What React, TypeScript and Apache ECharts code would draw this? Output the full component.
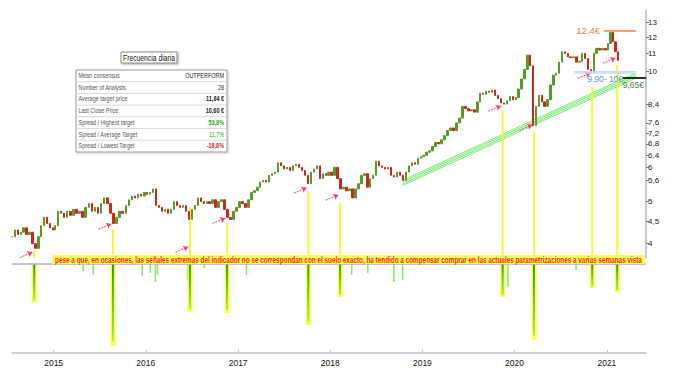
import React, { useEffect, useRef } from "react";
import * as echarts from "echarts";

const closes2014 = [4.15, 4.3, 4.2, 4.25, 4.35, 4.2, 4.25, 4.0, 3.9, 4.15, 4.4, 4.6, 4.45, 4.35, 4.3];
const closes2015 = [4.4, 4.75, 4.7, 4.6, 4.75, 4.65, 4.8, 4.7, 4.75, 4.6, 4.85, 4.95, 4.75, 4.85, 4.7, 4.95, 5.1, 4.95, 4.7, 4.45, 4.6, 4.75, 4.7, 4.9, 5.05, 5.15, 5.1, 5.2, 5.15, 5.25];
const closes2016 = [5.2, 5.25, 5.35, 4.9, 4.85, 4.75, 4.8, 4.7, 4.8, 5.0, 4.9, 4.85, 4.9, 4.75, 4.55, 4.8, 4.9, 5.1, 5.0, 4.95, 5.0, 4.95, 5.05, 4.85, 5.0, 5.05, 4.8, 4.6, 4.55, 4.75, 4.85];
const closes2017 = [5.0, 4.95, 4.85, 5.05, 5.25, 5.3, 5.4, 5.55, 5.6, 5.55, 5.75, 5.8, 5.85, 6.15, 6.05, 5.95, 6.0, 5.9, 6.05, 6.1, 6.0, 5.9, 5.75, 5.5, 5.85, 5.95, 6.05, 5.65, 5.8, 5.75, 5.85];
const closes2018 = [5.75, 6.0, 5.65, 5.35, 5.4, 5.3, 5.35, 5.1, 5.35, 5.5, 5.75, 5.8, 5.4, 5.65, 5.75, 6.2, 6.05, 6.0, 5.95, 6.0, 5.75, 5.7, 5.85, 5.75, 5.6, 5.85, 6.05, 6.15, 6.1, 6.3, 6.35];
const closes2019 = [6.4, 6.5, 6.55, 6.7, 6.85, 6.8, 6.95, 7.1, 7.3, 7.4, 7.3, 7.6, 7.8, 8.3, 8.2, 8.1, 8.15, 8.05, 8.5, 8.9, 8.85, 9.0, 8.95, 9.05, 8.8, 8.65, 8.45, 8.4, 8.55, 8.75, 8.6];
const closes2020 = [8.7, 9.1, 9.6, 10.1, 10.9, 10.3, 7.5, 8.3, 8.8, 8.5, 8.3, 8.6, 9.3, 9.8, 9.9, 10.5, 11.1, 11.0, 10.8, 10.75, 10.8, 10.5, 10.55, 11.0, 10.7, 10.1, 9.95, 11.0, 11.3, 11.2, 11.3, 11.2];
const closes2021 = [11.6, 12.3, 11.7, 11.1, 10.595];
const periodStarts = ["2014-07-20", "2015-01-06", "2016-01-06", "2017-01-06", "2018-01-06", "2019-01-06", "2020-01-06", "2021-01-06"];
const periodEnds = ["2014-12-29", "2015-12-26", "2016-12-26", "2017-12-26", "2018-12-26", "2019-12-26", "2020-12-26", "2021-02-15"];

// ---- axes ----
const xRange = ["2014-07-20", "2021-06-05"];
const yearLabels = [2015, 2016, 2017, 2018, 2019, 2020, 2021];
const yRange = [3.705, 13.857];
const yTickValues = [13, 12, 11, 10, 8.4, 7.6, 7.2, 6.8, 6.4, 6, 5.6, 5, 4.5, 4];

// ---- indicator signals ----
const signalDates = ["2014-10-16", "2015-08-24", "2016-06-24", "2016-11-18", "2017-10-06", "2018-02-09", "2019-11-15", "2020-03-18", "2020-11-04", "2021-02-11"];
const signalLineTops = [3.86, 4.32, 4.85, 4.46, 5.26, 4.96, 8.14, 7.24, 9.2, 10.34];
const signalArrowTargets = [3.82, 4.44, 3.93, 4.58, 5.38, 5.18, 8.32, 7.52, 9.91, 10.73];
const signalDepths = [-39, -82, -48, -49, -61, -33, -33, -76, -24, -28];
const spikeDates = ["2015-04-28", "2015-06-07", "2015-12-18", "2016-01-19", "2016-02-08", "2016-02-16", "2016-06-14", "2016-08-20", "2017-02-03", "2018-03-27", "2018-05-30", "2018-09-10", "2018-10-15", "2019-12-06", "2020-09-01"];
const spikeDepths = [-7, -11, -12, -9, -18, -11, -16, -4, -11, -11, -9, -18, -16, -23, -6];
const indicatorRange = [-89, 6];

// ---- channel & levels ----
const channelDates = ["2018-10-15", "2021-04-27"];
const channelStartValues = [5.45, 5.5, 5.55, 5.6];
const channelEndValues = [9.65, 9.74, 9.83, 9.92];
const peakLevel = 12.4;
const peakLineDates = ["2020-12-21", "2021-04-27"];
const zoneLevels = [10, 9.9];
const zoneDates = ["2020-08-24", "2021-04-27"];
const supportLevel = 9.65;
const supportDates = ["2021-03-04", "2021-06-05"];
const lastClose = 10.595;

// ---- texts ----
const titleText = "Frecuencia diaria";
const tableLabels = ["Mean consensus", "Number of Analysts", "Average target price", "Last Close Price", "Spread / Highest target", "Spread / Average Target", "Spread / Lowest Target"];
const tableValues = ["OUTPERFORM", "28", "11,84 €", "10,60 €", "53,8%", "11,7%", "-18,8%"];
const noteText = "pese a que, en ocasiones, las señales extremas del indicador no se correspondan con el suelo exacto, ha tendido a compensar comprar en las actuales parametrizaciones a varias semanas vista";

const SANS = "'Liberation Sans', Arial, sans-serif";
const DAY = 86400000;
const toT = (s: string) => Date.parse(s + "T00:00:00Z");
const L = Math.log;
const comma = (s: string) => s.replace(".", ",");
const fmtTick = (v: number) => comma(String(Math.round(v * 10) / 10));

let measureCtx: CanvasRenderingContext2D | null = null;
function textWidth(text: string, font: string) {
  if (!measureCtx) measureCtx = document.createElement("canvas").getContext("2d");
  if (!measureCtx) return text.length * 4;
  measureCtx.font = font;
  return measureCtx.measureText(text).width;
}

function buildOption() {
  const closeSets = [closes2014, closes2015, closes2016, closes2017, closes2018, closes2019, closes2020, closes2021];
  const dates: number[] = [];
  const values: number[] = [];
  closeSets.forEach((arr, k) => {
    const a = toT(periodStarts[k]);
    const b = toT(periodEnds[k]);
    arr.forEach((v, i) => {
      dates.push(a + ((b - a) * i) / Math.max(1, arr.length - 1));
      values.push(v);
    });
  });
  const candles = values.map((c, i) => {
    const o = i > 0 ? values[i - 1] : c;
    return [dates[i], L(o), L(c), L(Math.min(o, c)), L(Math.max(o, c))];
  });

  const tMin = toT(xRange[0]);
  const tMax = toT(xRange[1]);
  const yearTicks = yearLabels.map((y) => Date.UTC(y, 0, 1));

  const arrows = signalDates.map((d, i) => {
    const headT = toT(d) - 7 * DAY;
    const headV = L(signalArrowTargets[i]);
    return [{ coord: [headT - 50 * DAY, headV - 0.028] }, { coord: [headT, headV] }];
  });

  const greenGrad = new echarts.graphic.LinearGradient(0, 0, 0, 1, [
    { offset: 0, color: "#2f9a1c" },
    { offset: 1, color: "#a6f23e" },
  ]);

  const lvlLabel = { fontFamily: SANS, fontSize: 8.5 };

  const noteFont = `bold 9px ${SANS}`;
  const noteScale = 588 / textWidth(noteText, noteFont);
  const titleFont = `8.5px ${SANS}`;
  const titleScale = 52 / textWidth(titleText, titleFont);
  const TS = 0.84;

  const graphic: any[] = [
    { type: "rect", z: 50, shape: { x: 52, y: 255, width: 593, height: 9 }, style: { fill: "#ffff5c" } },
    {
      type: "text", z: 51, x: 348.5, y: 259.8, scaleX: noteScale,
      style: { text: noteText, fill: "#ff2a1a", font: noteFont, align: "center", verticalAlign: "middle" },
    },
    {
      type: "rect", z: 50, shape: { x: 121, y: 52, width: 56, height: 11 },
      style: { fill: "#fff", stroke: "#8a8a8a", lineWidth: 1, shadowBlur: 2, shadowColor: "rgba(0,0,0,0.35)", shadowOffsetX: 1, shadowOffsetY: 1 },
    },
    {
      type: "text", z: 51, x: 149, y: 57.8, scaleX: titleScale,
      style: { text: titleText, fill: "#111", font: titleFont, align: "center", verticalAlign: "middle" },
    },
    {
      type: "rect", z: 50, shape: { x: 76, y: 70, width: 151, height: 82 },
      style: { fill: "#fff", stroke: "#9a9a9a", lineWidth: 1, shadowBlur: 2, shadowColor: "rgba(0,0,0,0.2)", shadowOffsetX: 1, shadowOffsetY: 1 },
    },
  ];
  const rowH = 11.7;
  tableLabels.forEach((lab, k) => {
    const cy = 70 + rowH / 2 + rowH * k;
    if (k < tableLabels.length - 1) {
      graphic.push({ type: "line", z: 51, shape: { x1: 77, y1: 70 + rowH * (k + 1), x2: 226, y2: 70 + rowH * (k + 1) }, style: { stroke: "#d9d9d9", lineWidth: 1 } });
    }
    graphic.push({ type: "text", z: 52, x: 78.5, y: cy, scaleX: TS, style: { text: lab, fill: "#555", font: `6.5px ${SANS}`, align: "left", verticalAlign: "middle" } });
    const valColor = k >= 4 && k <= 5 ? "#1aa01a" : k === 6 ? "#e01818" : "#222";
    const bold = k === 2 || k === 3 || k === 4 || k === 6;
    graphic.push({ type: "text", z: 52, x: 224, y: cy, scaleX: TS, style: { text: tableValues[k], fill: valColor, font: `${bold ? "bold " : ""}6.5px ${SANS}`, align: "right", verticalAlign: "middle" } });
  });

  return {
    animation: false,
    backgroundColor: "#ffffff",
    textStyle: { fontFamily: SANS },
    grid: [
      { left: 12, right: 30, top: 10, height: 248 },
      { left: 12, right: 30, top: 258, height: 95 },
    ],
    xAxis: [
      { type: "value", gridIndex: 0, min: tMin, max: tMax, show: false, splitLine: { show: false } },
      {
        type: "value", gridIndex: 1, min: tMin, max: tMax,
        axisLine: { show: true, onZero: false, lineStyle: { color: "#b9c2cf", width: 1.5 } },
        axisTick: { show: true, customValues: yearTicks, length: 3, inside: true, lineStyle: { color: "#b9c2cf" } },
        axisLabel: { customValues: yearTicks, formatter: (v: number) => String(new Date(v).getUTCFullYear()), color: "#111", fontSize: 8.5, margin: 5, fontFamily: SANS },
        splitLine: { show: false },
      },
    ],
    yAxis: [
      {
        type: "value", gridIndex: 0, position: "right", min: L(yRange[0]), max: L(yRange[1]),
        axisLine: { show: true, lineStyle: { color: "#aeb8c8", width: 1.5 } },
        axisTick: { show: true, customValues: yTickValues.map(L), length: 3, lineStyle: { color: "#777" } },
        axisLabel: { customValues: yTickValues.map(L), formatter: (v: number) => fmtTick(Math.exp(v)), color: "#222", fontSize: 8, margin: 2, fontFamily: SANS },
        splitLine: { show: false },
      },
      { type: "value", gridIndex: 1, min: indicatorRange[0], max: indicatorRange[1], show: false, splitLine: { show: false } },
    ],
    series: [
      ...channelStartValues.map((s, k) => ({
        type: "line", xAxisIndex: 0, yAxisIndex: 0, silent: true, z: 1,
        data: [[toT(channelDates[0]), L(s)], [toT(channelDates[1]), L(channelEndValues[k])]],
        symbol: "none", lineStyle: { color: "#6fea6f", width: 1 },
        markLine: k === 0 ? {
          silent: true, symbol: ["none", "arrow"], symbolSize: 5,
          lineStyle: { color: "#ff3d5e", width: 1, type: [2, 1] },
          label: { show: false },
          data: arrows,
        } : undefined,
      })),
      {
        type: "custom", xAxisIndex: 0, yAxisIndex: 0, silent: true, z: 2,
        encode: { x: 0, y: 1 },
        data: signalDates.map((d, i) => [toT(d), L(signalLineTops[i])]),
        renderItem: (params: any, api: any) => {
          const p = api.coord([api.value(0), api.value(1)]);
          const cs = params.coordSys;
          const bottom = cs.y + cs.height;
          return { type: "rect", shape: { x: p[0] - 1, y: p[1], width: 2, height: bottom - p[1] }, style: { fill: "#f6f63c" } };
        },
      },
      {
        type: "candlestick", xAxisIndex: 0, yAxisIndex: 0, silent: true, z: 3,
        encode: { x: 0, y: [1, 2, 3, 4] },
        data: candles, barWidth: 2,
        itemStyle: { color: "#5a9a2a", color0: "#c62a1e", borderColor: "#5a9a2a", borderColor0: "#c62a1e", borderWidth: 1 },
        markLine: {
          silent: true, symbol: "none",
          data: [
            [
              { coord: [toT(peakLineDates[0]), L(peakLevel)], lineStyle: { color: "#f2a06e", width: 2, type: "solid" }, label: { show: true, position: "start", formatter: comma(String(peakLevel)) + "€", color: "#dc8650", distance: 4, fontFamily: SANS, fontSize: 9.5 } },
              { coord: [toT(peakLineDates[1]), L(peakLevel)] },
            ],
            [
              { coord: [toT(zoneDates[0]), L(zoneLevels[0])], lineStyle: { color: "#c5d9f0", width: 1, type: "solid" }, label: { show: false } },
              { coord: [toT(zoneDates[1]), L(zoneLevels[0])] },
            ],
            [
              { coord: [toT(zoneDates[0]), L(zoneLevels[1])], lineStyle: { color: "#c5d9f0", width: 1.5, type: "solid" }, label: { show: true, position: "insideMiddleBottom", formatter: comma(zoneLevels[1].toFixed(2)) + "- " + zoneLevels[0] + "€", color: "#5b9cc6", distance: 1, ...lvlLabel } },
              { coord: [toT(zoneDates[1]), L(zoneLevels[1])] },
            ],
            [
              { coord: [toT(supportDates[0]), L(supportLevel)], lineStyle: { color: "#1e3318", width: 2, type: "solid" }, label: { show: true, position: "insideEndBottom", formatter: comma(supportLevel.toFixed(2)) + "€", color: "#4f7f3f", distance: 2, ...lvlLabel } },
              { coord: [toT(supportDates[1]), L(supportLevel)] },
            ],
            {
              yAxis: L(lastClose), lineStyle: { opacity: 0, width: 0 },
              label: { show: true, position: "end", formatter: comma(String(lastClose)), offset: [0, 1.5], color: "#111", backgroundColor: "#f6d548", borderColor: "#555", borderWidth: 0.8, padding: [1, 1, 0, 1], lineHeight: 9, distance: 2, fontFamily: SANS, fontSize: 8 },
            },
          ],
        },
      },
      {
        type: "custom", xAxisIndex: 1, yAxisIndex: 1, silent: true, z: 2,
        encode: { x: 0, y: 1 },
        data: spikeDates.map((d, i) => [toT(d), spikeDepths[i]]),
        renderItem: (params: any, api: any) => {
          const p0 = api.coord([api.value(0), 0]);
          const p1 = api.coord([api.value(0), api.value(1)]);
          return { type: "rect", shape: { x: p0[0] - 0.75, y: p0[1], width: 1.5, height: p1[1] - p0[1] }, style: { fill: "#86e860" } };
        },
        markLine: {
          silent: true, symbol: "none", label: { show: false },
          lineStyle: { color: "#a7b3c4", width: 1.5, type: "solid" },
          data: [{ yAxis: 0 }],
        },
      },
      {
        type: "custom", xAxisIndex: 1, yAxisIndex: 1, silent: true, z: 3,
        encode: { x: 0, y: 1 },
        data: signalDates.map((d, i) => [toT(d), signalDepths[i]]),
        renderItem: (params: any, api: any) => {
          const p0 = api.coord([api.value(0), 0]);
          const p1 = api.coord([api.value(0), api.value(1)]);
          const h = p1[1] - p0[1];
          return {
            type: "group",
            children: [
              { type: "rect", shape: { x: p0[0] - 2.5, y: p0[1], width: 5, height: h }, style: { fill: "#ffff4a" } },
              { type: "rect", shape: { x: p0[0] - 1, y: p0[1], width: 2, height: h * 0.94 }, style: { fill: greenGrad } },
            ],
          };
        },
      },
    ],
    graphic,
  };
}

export default function App() {
  const ref = useRef<HTMLDivElement>(null);
  useEffect(() => {
    if (!ref.current) return;
    const chart = echarts.init(ref.current, null, { renderer: "svg" });
    chart.setOption(buildOption() as any);
    return () => chart.dispose();
  }, []);
  return <div ref={ref} style={{ position: "fixed", left: 0, top: 0, width: 676, height: 371, background: "#fff" }} />;
}
